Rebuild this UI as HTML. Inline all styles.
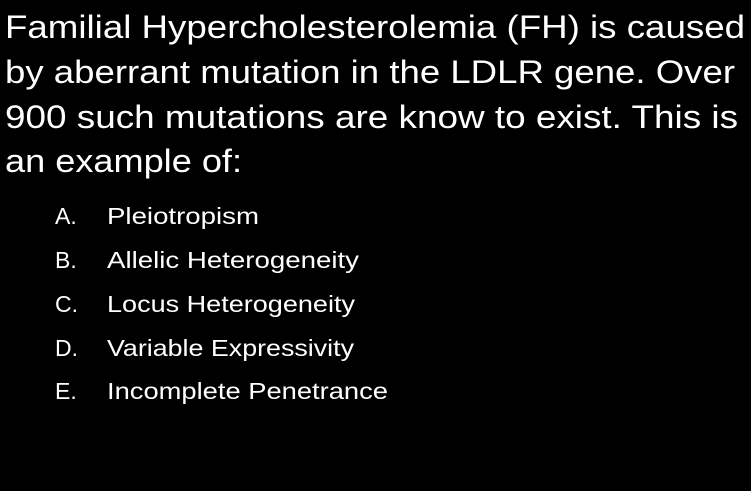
<!DOCTYPE html>
<html><head><meta charset="utf-8"><style>
html,body{margin:0;padding:0;background:#000;}
svg{display:block}
text{font-family:"Liberation Sans",sans-serif;fill:#fff}
</style></head><body>
<svg width="751" height="491" viewBox="0 0 751 491">
<rect width="751" height="491" fill="#000"/>
<g font-size="32">
<text x="5" y="38" textLength="740" lengthAdjust="spacingAndGlyphs">Familial Hypercholesterolemia (FH) is caused</text>
<text x="5" y="83" textLength="730" lengthAdjust="spacingAndGlyphs">by aberrant mutation in the LDLR gene. Over</text>
<text x="5" y="128" textLength="733" lengthAdjust="spacingAndGlyphs">900 such mutations are know to exist. This is</text>
<text x="5" y="172" textLength="237" lengthAdjust="spacingAndGlyphs">an example of:</text>
</g>
<g font-size="23">
<text x="55" y="224">A.</text>
<text x="107" y="224" textLength="152" lengthAdjust="spacingAndGlyphs">Pleiotropism</text>
<text x="55" y="268">B.</text>
<text x="107" y="268" textLength="252" lengthAdjust="spacingAndGlyphs">Allelic Heterogeneity</text>
<text x="55" y="312">C.</text>
<text x="107" y="312" textLength="248" lengthAdjust="spacingAndGlyphs">Locus Heterogeneity</text>
<text x="55" y="356">D.</text>
<text x="107" y="356" textLength="247" lengthAdjust="spacingAndGlyphs">Variable Expressivity</text>
<text x="55" y="399">E.</text>
<text x="107" y="399" textLength="281" lengthAdjust="spacingAndGlyphs">Incomplete Penetrance</text>
</g>
</svg>
</body></html>
